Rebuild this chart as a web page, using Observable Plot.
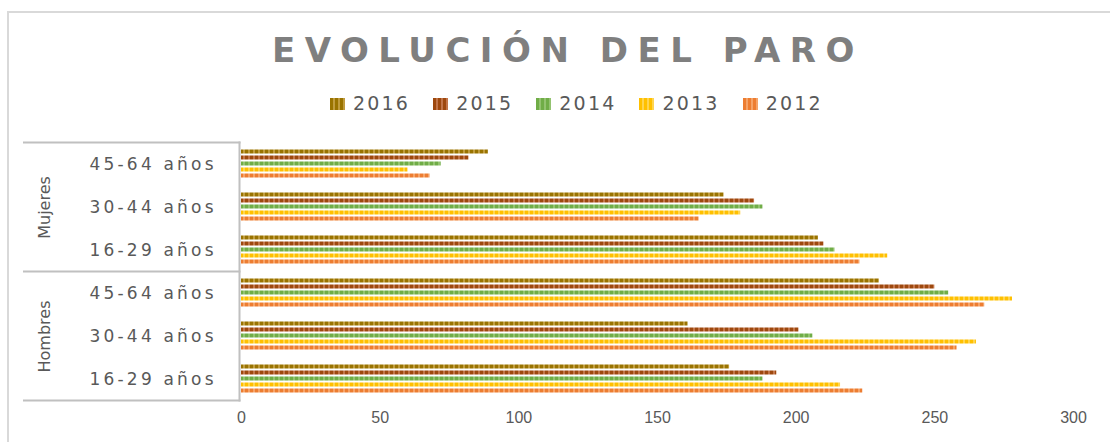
<!DOCTYPE html>
<html>
<head>
<meta charset="utf-8">
<script src="https://cdn.jsdelivr.net/npm/d3@7"></script>
<script src="https://cdn.jsdelivr.net/npm/@observablehq/plot@0.6"></script>
<style>
  html, body { margin: 0; padding: 0; background: #fff; }
  #wrap { position: relative; width: 1110px; height: 442px; overflow: hidden; font-family: "Liberation Sans", Arial, sans-serif; }
  #border { position: absolute; left: 7px; top: 11px; width: 1200px; height: 500px; border-top: 2px solid #d9d9d9; border-left: 2px solid #d9d9d9; }
  #title { position: absolute; left: 272px; top: 33px; font-family: "DejaVu Sans", sans-serif; font-size: 34px; line-height: 34px; font-weight: bold; color: #7f7f7f; letter-spacing: 9.5px; white-space: nowrap; }
  #legend { position: absolute; left: 330px; top: 92px; display: flex; align-items: center; }
  .item { display: flex; align-items: center; margin-right: 23px; }
  .sw { width: 15px; height: 12px; margin-right: 8px; margin-top: 2px; }
  .lab { font-family: "DejaVu Sans", sans-serif; font-size: 19px; line-height: 22px; color: #595959; letter-spacing: 2.2px; }
  #chart { position: absolute; left: 0; top: 0; }
</style>
</head>
<body>
<div id="wrap">
  <div id="border"></div>
  <div id="chart"></div>
  <div id="title">EVOLUCIÓN DEL PARO</div>
  <div id="legend"></div>
</div>
<script>
// ---- data ----
const groups = ["Mujeres", "Hombres"];
const ages = ["45-64 años", "30-44 años", "16-29 años"];
const years = ["2016", "2015", "2014", "2013", "2012"];
// values in order: Mujeres 45-64, 30-44, 16-29, Hombres 45-64, 30-44, 16-29
const v2016 = [89, 174, 208, 230, 161, 176];
const v2015 = [82, 185, 210, 250, 201, 193];
const v2014 = [72, 188, 214, 255, 206, 188];
const v2013 = [60, 180, 233, 278, 265, 216];
const v2012 = [68, 165, 223, 268, 258, 224];
const xTicks = [0, 50, 100, 150, 200, 250, 300];

const darkColors = ["#997300", "#9e480e", "#70ad47", "#ffc000", "#ed7d31"];
const lightColors = ["#c09c3e", "#c27549", "#93c370", "#ffd550", "#f5a368"];

const seriesValues = {"2016": v2016, "2015": v2015, "2014": v2014, "2013": v2013, "2012": v2012};
const cats = [];
groups.forEach(g => ages.forEach(a => cats.push(g + "|" + a)));
const rows = [];
years.forEach(y => cats.forEach((c, i) => rows.push({cat: c, year: y, value: seriesValues[y][i]})));
const catRows = cats.map(c => ({cat: c, age: c.split("|")[1]}));
const groupRows = groups.map(g => ({cat: g + "|" + ages[1], group: g}));

const patternIds = years.map(y => "url(#pat" + y + ")");

const plot = Plot.plot({
  width: 1110,
  height: 442,
  marginTop: 142.5,
  marginBottom: 41.5,
  marginLeft: 241,
  marginRight: 37,
  style: {fontFamily: "Liberation Sans, Arial, sans-serif", background: "transparent", overflow: "visible"},
  x: {domain: [0, 300], ticks: xTicks, tickSize: 0, tickPadding: 16, label: null},
  y: {domain: years, paddingInner: 0.33, paddingOuter: 0, axis: null},
  fy: {domain: cats, paddingInner: 0.25, paddingOuter: 0.125, axis: null},
  color: {domain: years, range: patternIds},
  marks: [
    Plot.barX(rows, {fy: "cat", y: "year", x: "value", fill: "year"}),
    Plot.text(catRows, {fy: "cat", text: "age", frameAnchor: "left", dx: -152, textAnchor: "start", fontSize: 17, fontFamily: "DejaVu Sans, sans-serif", fill: "#595959"}),
    Plot.text(groupRows, {fy: "cat", text: "group", frameAnchor: "left", dx: -197, textAnchor: "middle", rotate: -90, fontSize: 16, fontFamily: "DejaVu Sans, sans-serif", fill: "#595959"})
  ]
});

const svg = d3.select(plot);
// patterns
const defs = svg.insert("defs", ":first-child");
years.forEach((y, i) => {
  const p = defs.append("pattern").attr("id", "pat" + y).attr("patternUnits", "userSpaceOnUse")
    .attr("width", 5).attr("height", 10);
  p.append("rect").attr("width", 5).attr("height", 10).attr("fill", darkColors[i]);
  p.append("rect").attr("x", 3).attr("width", 2).attr("height", 10).attr("fill", lightColors[i]);
});
// x tick labels style
svg.selectAll('g[aria-label="x-axis tick label"]').attr("font-size", 16).attr("fill", "#595959");
svg.selectAll('g[aria-label="x-axis tick label"] text').attr("fill", "#595959");
// category label letter spacing
svg.selectAll('g[aria-label="text"]').filter((d, i) => i === 0).selectAll("text").style("letter-spacing", "3.2px");

// category axis lines from scales
const fy = plot.scale("fy");
const xs = plot.scale("x");
const gap = fy.step - fy.bandwidth;
const lineYs = [fy.apply(cats[0]) - gap / 2, fy.apply(cats[3]) - gap / 2, fy.apply(cats[5]) + fy.bandwidth + gap / 2];
const x0 = xs.apply(0) - 1.5;
const lg = svg.append("g").attr("stroke", "#c0c0c0").attr("stroke-width", 2);
lineYs.forEach(yy => lg.append("line").attr("x1", 23).attr("x2", x0 + 1).attr("y1", yy).attr("y2", yy));
lg.append("line").attr("x1", x0).attr("x2", x0).attr("y1", lineYs[0] - 1).attr("y2", lineYs[2] + 1);

document.getElementById("chart").appendChild(plot);

// legend
const legend = d3.select("#legend");
years.forEach((y, i) => {
  const it = legend.append("div").attr("class", "item");
  it.append("div").attr("class", "sw")
    .style("background", `repeating-linear-gradient(90deg, ${darkColors[i]} 0 3px, ${lightColors[i]} 3px 5px)`);
  it.append("div").attr("class", "lab").text(y);
});
</script>
</body>
</html>
